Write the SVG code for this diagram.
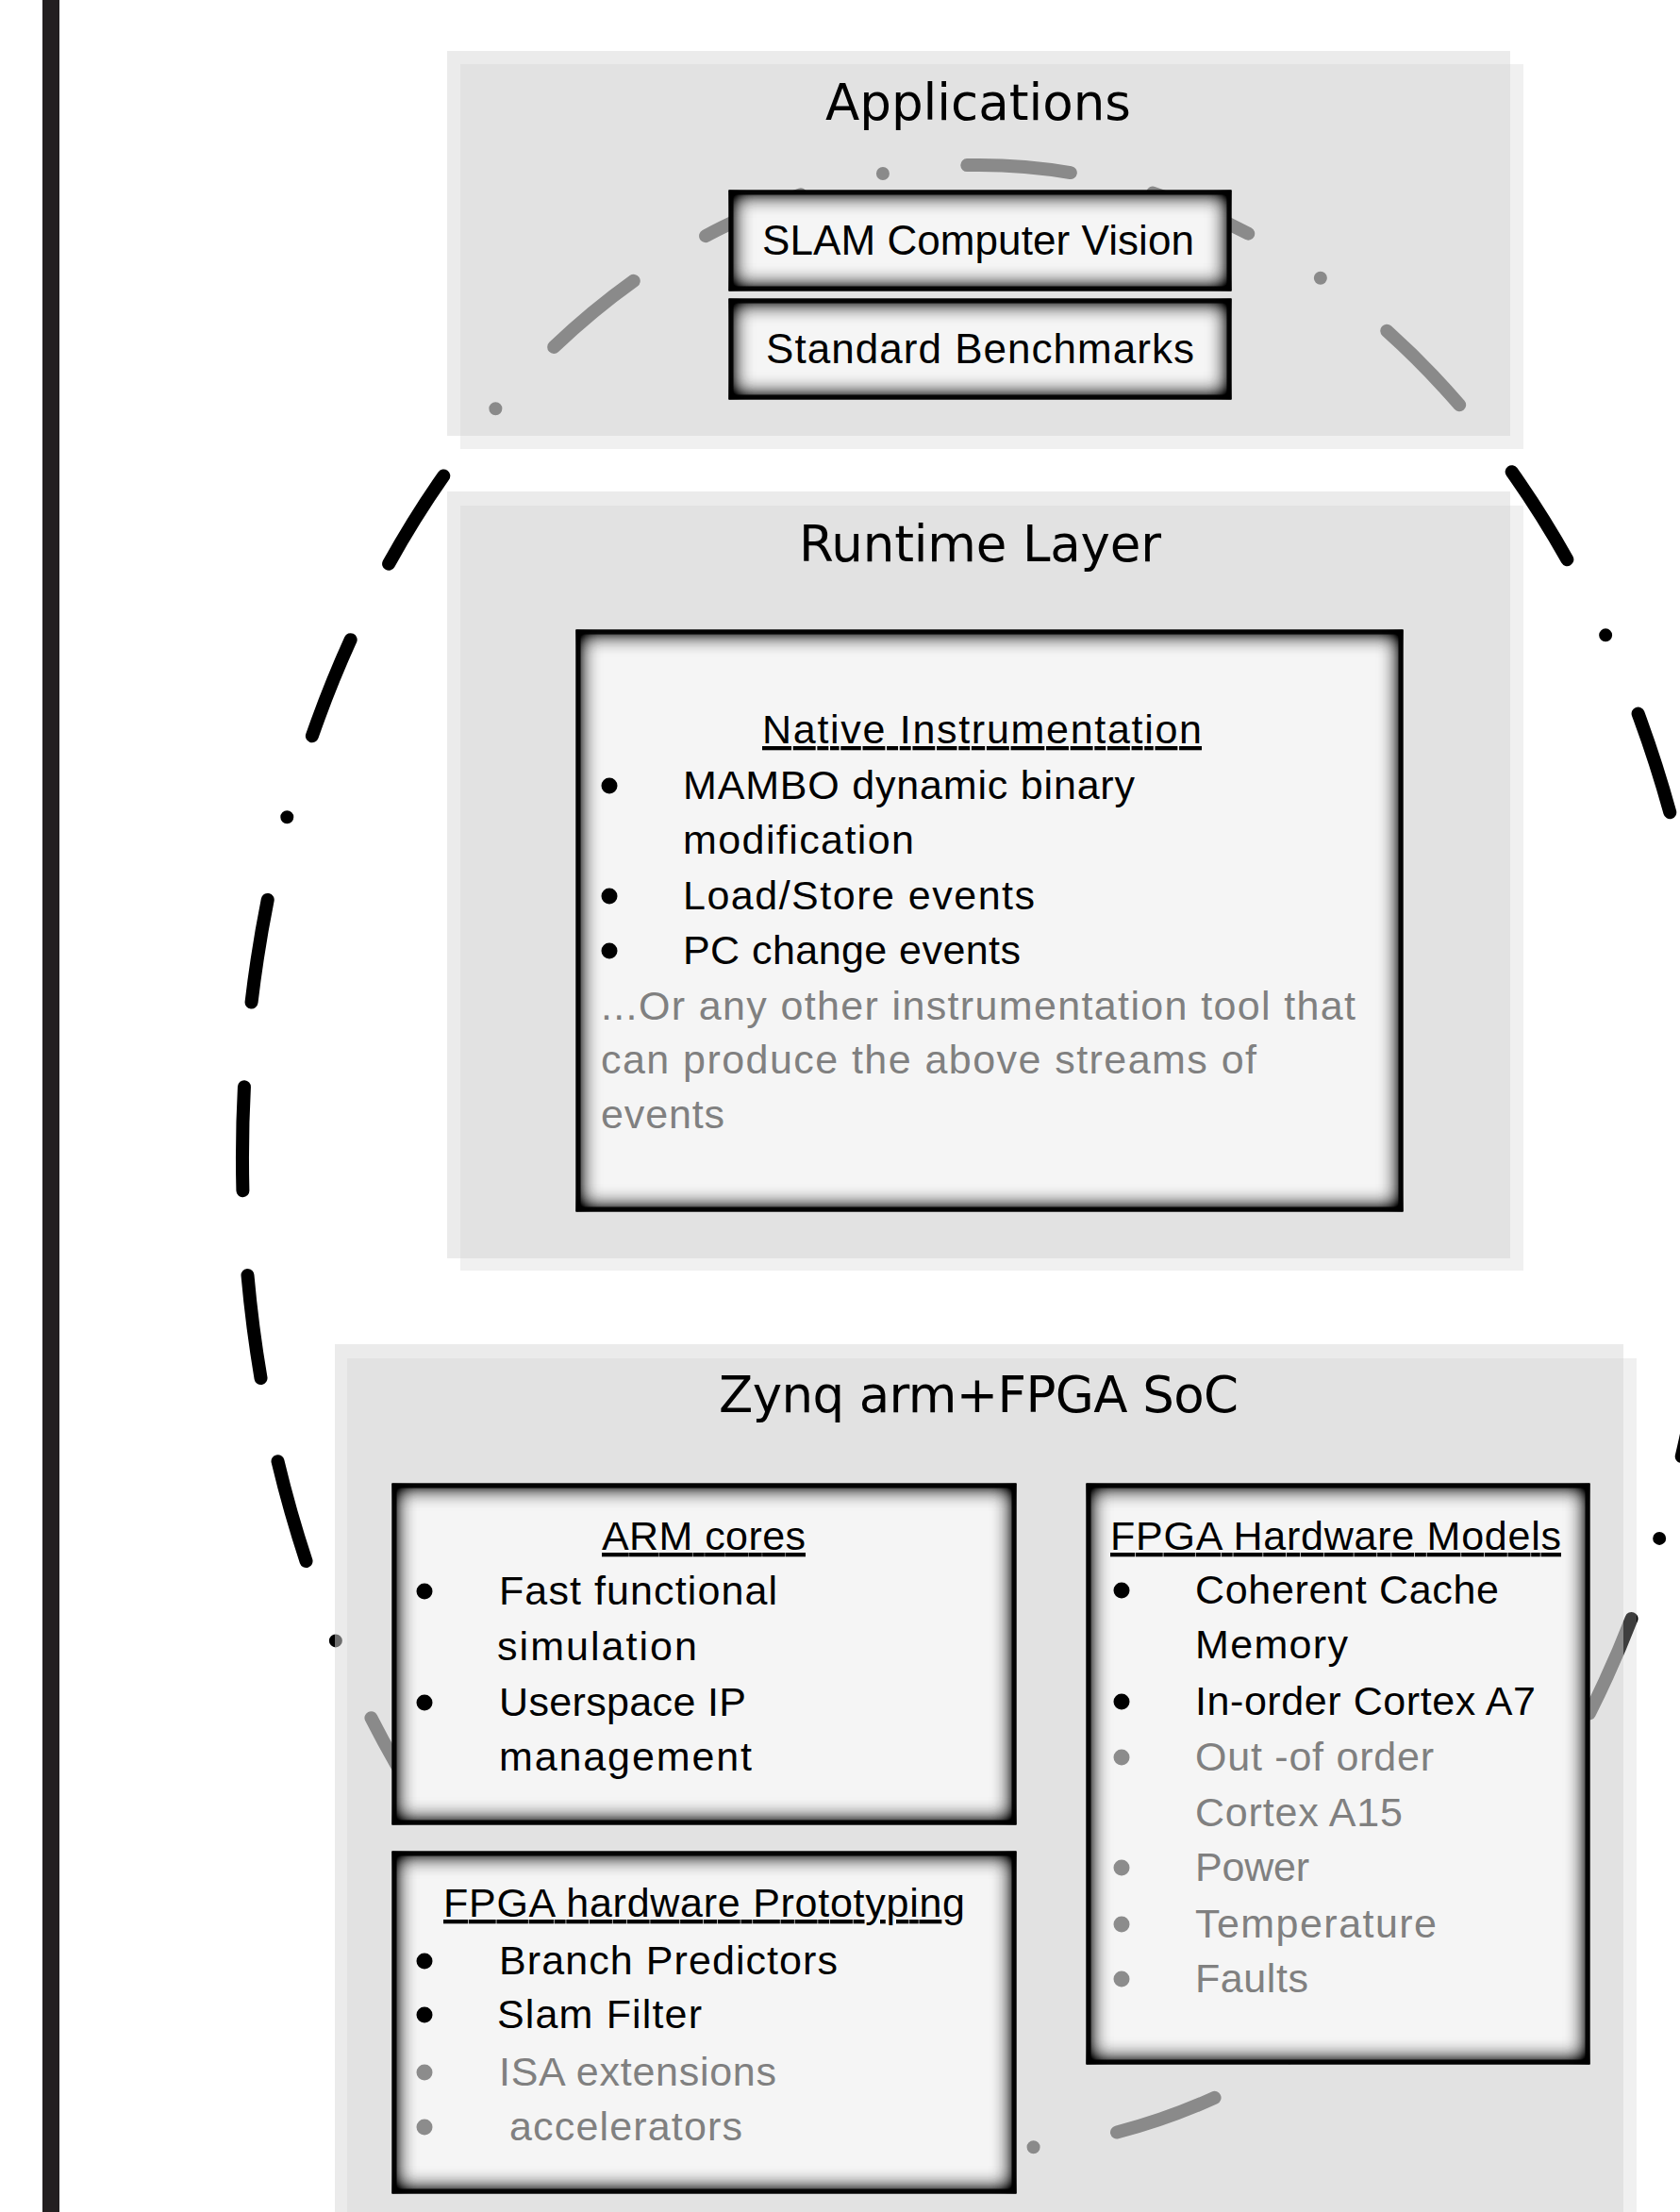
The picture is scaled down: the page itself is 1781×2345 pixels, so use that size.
<svg xmlns="http://www.w3.org/2000/svg" width="1781" height="2345" viewBox="0 0 1781 2345">
  <style>
    .title { font-family: "DejaVu Sans", "Liberation Sans", sans-serif; font-size: 53px; fill: #000; }
    .sm { font-family: "Liberation Sans", Arial, sans-serif; font-size: 44px; fill: #000; }
    .tx { font-family: "Liberation Sans", Arial, sans-serif; font-size: 43px; fill: #000; }
    .g { fill: #808080; }
    .ul { text-decoration: underline; }
    .bl { fill: #000; }
    .bg { fill: #8c8c8c; }
    .pa { fill: rgb(215,215,215); fill-opacity: 0.506; }
    .pb { fill: rgb(205,205,205); fill-opacity: 0.3; }
    .box { fill: #f5f5f5; stroke: #111; stroke-width: 5; filter: url(#inset); }
  </style>
  <defs>
    <filter id="inset" x="-12%" y="-50%" width="124%" height="200%" color-interpolation-filters="sRGB">
      <feFlood flood-color="#000" flood-opacity="1" result="black"/>
      <feComposite in="black" in2="SourceAlpha" operator="out" result="outside"/>
      <feGaussianBlur in="outside" stdDeviation="12" result="blur"/>
      <feComposite in="blur" in2="SourceAlpha" operator="in" result="shadow"/>
      <feComponentTransfer in="shadow" result="shadow2"><feFuncA type="linear" slope="1.9"/></feComponentTransfer>
      <feMerge><feMergeNode in="SourceGraphic"/><feMergeNode in="shadow2"/></feMerge>
    </filter>
  </defs>

  <rect x="0" y="0" width="1781" height="2345" fill="#fff"/>
  <rect id="left-bar" x="45" y="0" width="18" height="2345" fill="#231f20"/>

  <g id="connectors">
    <path id="ellipse" d="M 262.5 1352 A 781 1052 0 0 0 1813.5 1102 A 781 1052 0 0 0 262.5 1352 Z" fill="none" stroke="#000" stroke-width="14" stroke-linecap="round" pathLength="5790" stroke-dasharray="110 90 110 90 0 90"/>
  </g>

  <g id="applications">
    <rect class="pa" x="474" y="54" width="1127" height="408"/>
    <rect class="pb" x="488" y="68" width="1127" height="408"/>
    <text class="title" x="875" y="127" textLength="324" lengthAdjust="spacingAndGlyphs">Applications</text>
  </g>
  <g id="slam">
    <rect class="box" x="775" y="204" width="528" height="102"/>
    <text class="sm" x="808" y="270" textLength="458">SLAM Computer Vision</text>
  </g>
  <g id="benchmarks">
    <rect class="box" x="775" y="319" width="528" height="102"/>
    <text class="sm" x="812" y="385" textLength="454">Standard Benchmarks</text>
  </g>

  <g id="runtime">
    <rect class="pa" x="474" y="521" width="1127" height="813"/>
    <rect class="pb" x="488" y="536" width="1127" height="811"/>
    <text class="title" x="847" y="595" textLength="384">Runtime Layer</text>
  </g>
  <g id="native">
    <rect class="box" x="613" y="670" width="872" height="612"/>
    <text class="tx ul" x="808" y="788" textLength="466">Native Instrumentation</text>
    <circle class="bl" cx="646" cy="833" r="8.5"/>
    <text class="tx" x="724" y="847" textLength="479">MAMBO dynamic binary</text>
    <text class="tx" x="724" y="905" textLength="245">modification</text>
    <circle class="bl" cx="646" cy="950" r="8.5"/>
    <text class="tx" x="724" y="964" textLength="373">Load/Store events</text>
    <circle class="bl" cx="646" cy="1008" r="8.5"/>
    <text class="tx" x="724" y="1022" textLength="358">PC change events</text>
    <text class="tx g" x="637" y="1081" textLength="800">...Or any other instrumentation tool that</text>
    <text class="tx g" x="637" y="1138" textLength="695">can produce the above streams of</text>
    <text class="tx g" x="637" y="1196" textLength="131">events</text>
  </g>

  <g id="zynq">
    <rect class="pa" x="355" y="1425" width="1366" height="930"/>
    <rect class="pb" x="368" y="1440" width="1367" height="915"/>
    <text class="title" x="762" y="1497" textLength="551">Zynq arm+FPGA SoC</text>
  </g>
  <g id="arm-cores">
    <rect class="box" x="418" y="1575" width="657" height="357"/>
    <text class="tx ul" x="638" y="1643" textLength="216">ARM cores</text>
    <circle class="bl" cx="450" cy="1687" r="8.5"/>
    <text class="tx" x="529" y="1701" textLength="295">Fast functional</text>
    <text class="tx" x="527" y="1760" textLength="212">simulation</text>
    <circle class="bl" cx="450" cy="1805" r="8.5"/>
    <text class="tx" x="529" y="1819" textLength="262">Userspace IP</text>
    <text class="tx" x="529" y="1877" textLength="268">management</text>
  </g>
  <g id="fpga-prototyping">
    <rect class="box" x="418" y="1965" width="657" height="358"/>
    <text class="tx ul" x="470" y="2032" textLength="553">FPGA hardware Prototyping</text>
    <circle class="bl" cx="450" cy="2079" r="8.5"/>
    <text class="tx" x="529" y="2093" textLength="359">Branch Predictors</text>
    <circle class="bl" cx="450" cy="2136" r="8.5"/>
    <text class="tx" x="527" y="2150" textLength="217">Slam Filter</text>
    <circle class="bg" cx="450" cy="2197" r="8.5"/>
    <text class="tx g" x="529" y="2211" textLength="294">ISA extensions</text>
    <circle class="bg" cx="450" cy="2255" r="8.5"/>
    <text class="tx g" x="540" y="2269" textLength="247">accelerators</text>
  </g>
  <g id="fpga-models">
    <rect class="box" x="1154" y="1575" width="529" height="611"/>
    <text class="tx ul" x="1177" y="1643" textLength="478">FPGA Hardware Models</text>
    <circle class="bl" cx="1189" cy="1686" r="8.5"/>
    <text class="tx" x="1267" y="1700" textLength="322">Coherent Cache</text>
    <text class="tx" x="1267" y="1758" textLength="162">Memory</text>
    <circle class="bl" cx="1189" cy="1804" r="8.5"/>
    <text class="tx" x="1267" y="1818" textLength="361">In-order Cortex A7</text>
    <circle class="bg" cx="1189" cy="1863" r="8.5"/>
    <text class="tx g" x="1267" y="1877" textLength="253">Out -of order</text>
    <text class="tx g" x="1267" y="1936" textLength="220">Cortex A15</text>
    <circle class="bg" cx="1189" cy="1980" r="8.5"/>
    <text class="tx g" x="1267" y="1994" textLength="121">Power</text>
    <circle class="bg" cx="1189" cy="2040" r="8.5"/>
    <text class="tx g" x="1267" y="2054" textLength="256">Temperature</text>
    <circle class="bg" cx="1189" cy="2098" r="8.5"/>
    <text class="tx g" x="1267" y="2112" textLength="120">Faults</text>
  </g>
</svg>
